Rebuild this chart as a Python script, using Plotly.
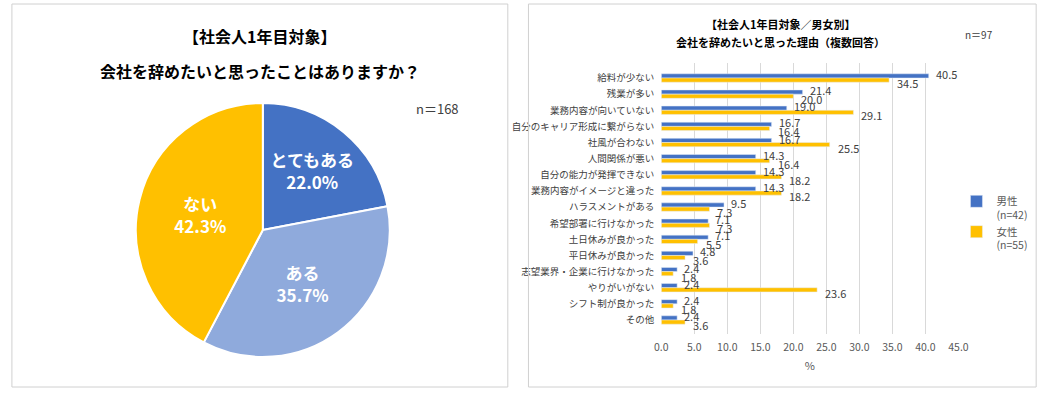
import plotly.graph_objects as go

W, H = 1056, 393
FONT = "Noto Sans CJK JP"

# ---- data ----
pie_labels = ["とてもある", "ある", "ない"]
pie_values = [22.0, 35.7, 42.3]
pie_colors = ["#4472C4", "#8FAADC", "#FFC000"]

reasons = ["給料が少ない", "残業が多い", "業務内容が向いていない", "自分のキャリア形成に繋がらない",
           "社風が合わない", "人間関係が悪い", "自分の能力が発揮できない", "業務内容がイメージと違った",
           "ハラスメントがある", "希望部署に行けなかった", "土日休みが良かった", "平日休みが良かった",
           "志望業界・企業に行けなかった", "やりがいがない", "シフト制が良かった", "その他"]
male = [40.5, 21.4, 19.0, 16.7, 16.7, 14.3, 14.3, 14.3, 9.5, 7.1, 7.1, 4.8, 2.4, 2.4, 2.4, 2.4]
female = [34.5, 20.0, 29.1, 16.4, 25.5, 16.4, 18.2, 18.2, 7.3, 7.3, 5.5, 3.6, 1.8, 23.6, 1.8, 3.6]
x_ticks = [0, 5, 10, 15, 20, 25, 30, 35, 40, 45]


def px(x):
    return x / W


def py(y):
    return 1 - y / H


fig = go.Figure()

fig.add_trace(go.Pie(
    labels=pie_labels, values=pie_values, sort=False, direction="clockwise", rotation=0,
    marker=dict(colors=pie_colors, line=dict(color="white", width=2)),
    text=[f"{l}<br>{v:.1f}%" for l, v in zip(pie_labels, pie_values)],
    textinfo="text", textposition="inside", insidetextorientation="horizontal",
    textfont=dict(family=FONT, size=17, color="white", weight="bold"),
    hoverinfo="skip", showlegend=False,
    domain=dict(x=[px(131), px(389)], y=[py(359), py(101)]),
))

fig.add_trace(go.Bar(
    y=reasons, x=male, orientation="h", name="男性<br>(n=42)",
    marker_color="#4472C4", xaxis="x", yaxis="y", hoverinfo="skip",
))
fig.add_trace(go.Bar(
    y=reasons, x=female, orientation="h", name="女性<br>(n=55)",
    marker_color="#FFC000", xaxis="x", yaxis="y", hoverinfo="skip",
))

annotations = []
for r, m, f in zip(reasons, male, female):
    annotations.append(dict(x=m, y=r, xref="x", yref="y", text=f"{m:.1f}", showarrow=False,
                            xanchor="left", yanchor="middle", xshift=5, yshift=4,
                            font=dict(family=FONT, size=11, color="#404040")))
    annotations.append(dict(x=f, y=r, xref="x", yref="y", text=f"{f:.1f}", showarrow=False,
                            xanchor="left", yanchor="middle", xshift=6, yshift=-5,
                            font=dict(family=FONT, size=11, color="#404040")))

# titles and notes
annotations += [
    dict(x=px(257), y=py(36), xref="paper", yref="paper", text="【社会人1年目対象】", showarrow=False,
         xanchor="center", yanchor="middle",
         font=dict(family=FONT, size=16, color="#000000", weight="bold")),
    dict(x=px(257), y=py(71), xref="paper", yref="paper", text="会社を辞めたいと思ったことはありますか？",
         showarrow=False, xanchor="center", yanchor="middle",
         font=dict(family=FONT, size=16, color="#000000", weight="bold")),
    dict(x=px(438), y=py(108), xref="paper", yref="paper", text="n＝168", showarrow=False,
         xanchor="center", yanchor="middle",
         font=dict(family=FONT, size=13, color="#404040")),
    dict(x=px(787), y=py(24), xref="paper", yref="paper", text="【社会人1年目対象／男女別】", showarrow=False,
         xanchor="center", yanchor="middle",
         font=dict(family=FONT, size=11, color="#000000", weight="bold")),
    dict(x=px(786), y=py(42), xref="paper", yref="paper", text="会社を辞めたいと思った理由（複数回答）",
         showarrow=False, xanchor="center", yanchor="middle",
         font=dict(family=FONT, size=11, color="#000000", weight="bold")),
    dict(x=px(988), y=py(34), xref="paper", yref="paper", text="n＝97", showarrow=False,
         xanchor="center", yanchor="middle",
         font=dict(family=FONT, size=10, color="#404040")),
]

shapes = [
    dict(type="rect", xref="paper", yref="paper", x0=px(5), x1=px(509), y0=py(387), y1=py(4),
         line=dict(color="#D0D0D0", width=1)),
    dict(type="rect", xref="paper", yref="paper", x0=px(530), x1=px(1046), y0=py(387), y1=py(4),
         line=dict(color="#D0D0D0", width=1)),
]

fig.update_layout(
    width=W, height=H, margin=dict(l=0, r=0, t=0, b=0),
    paper_bgcolor="white", plot_bgcolor="white",
    font=dict(family=FONT, color="#595959"),
    barmode="group", bargap=0.48, bargroupgap=0,
    xaxis=dict(domain=[px(665), px(967)], range=[0, 45], tickvals=x_ticks,
               ticktext=[f"{t:.1f}" for t in x_ticks], showgrid=True, gridcolor="#D9D9D9",
               gridwidth=1, zeroline=False, showline=False, ticks="", ticklabelstandoff=5,
               tickfont=dict(size=10.5, color="#595959"), fixedrange=True,
               title=dict(text="%", font=dict(size=11, color="#595959"), standoff=9), anchor="y"),
    yaxis=dict(domain=[py(334), py(63)], autorange="reversed", showgrid=False, zeroline=False,
               showline=False, ticks="", tickfont=dict(size=9.5, color="#404040"), anchor="x",
               ticklabelstandoff=6, fixedrange=True),
    legend=dict(x=px(965), y=py(188), xanchor="left", yanchor="top", valign="top",
                font=dict(family=FONT, size=10.5, color="#595959"), bgcolor="rgba(0,0,0,0)",
                itemwidth=30),
    annotations=annotations, shapes=shapes,
)

fig.write_html("out.html", config={"displayModeBar": False},
               post_script="document.body.style.margin='0';")
